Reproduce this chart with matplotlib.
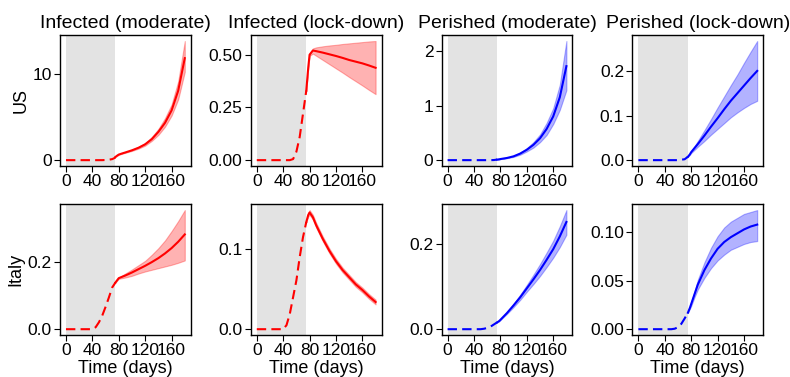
import matplotlib
matplotlib.use('Agg')
import matplotlib.pyplot as plt

plt.rcParams['font.family'] = ['Liberation Sans', 'DejaVu Sans']

# time grids (days)
t_pre = [0, 10, 20, 30, 40, 45, 50, 55, 60, 65, 70, 75]
t_post = [75, 78, 80, 85, 90, 100, 110, 120, 130, 140, 150, 160, 170, 180]
lock_start = 75

titles = ['Infected (moderate)', 'Infected (lock-down)', 'Perished (moderate)', 'Perished (lock-down)']
countries = ['US', 'Italy']
xticks = [0, 40, 80, 120, 160]
yticks = [[[0, 10], [0, 0.25, 0.5], [0, 1, 2], [0, 0.1, 0.2]],
          [[0, 0.2], [0, 0.1], [0, 0.2], [0, 0.05, 0.1]]]
yfmt = [['%d', '%.2f', '%d', '%.1f'],
        ['%.1f', '%.1f', '%.1f', '%.2f']]

# US
us_inf_mod_pre = [0, 0, 0, 0, 0, 0, 0, 0, 0.02, 0.05, 0.12, 0.3]
us_inf_mod = [0.38, 0.55, 0.65, 0.78, 0.9, 1.15, 1.45, 1.85, 2.45, 3.3, 4.35, 5.8, 8.1, 11.9]
us_inf_mod_lo = [0.38, 0.54, 0.63, 0.75, 0.86, 1.08, 1.35, 1.7, 2.25, 2.95, 3.9, 5.2, 7.1, 10.3]
us_inf_mod_hi = [0.38, 0.56, 0.67, 0.81, 0.94, 1.22, 1.56, 2.0, 2.7, 3.65, 4.9, 6.5, 9.2, 13.9]

us_inf_lock_pre = [0, 0, 0, 0, 0, 0, 0, 0.005, 0.04, 0.11, 0.22, 0.33]
us_inf_lock = [0.33, 0.44, 0.50, 0.52, 0.517, 0.51, 0.502, 0.494, 0.485, 0.475, 0.467, 0.459, 0.449, 0.438]
us_inf_lock_lo = [0.33, 0.44, 0.495, 0.505, 0.495, 0.475, 0.455, 0.435, 0.415, 0.394, 0.374, 0.354, 0.333, 0.313]
us_inf_lock_hi = [0.33, 0.44, 0.505, 0.53, 0.535, 0.54, 0.544, 0.547, 0.551, 0.554, 0.557, 0.56, 0.563, 0.565]

us_per_mod_pre = [0, 0, 0, 0, 0, 0, 0, 0, 0, 0, 0.002, 0.01]
us_per_mod = [0.01, 0.015, 0.02, 0.03, 0.04, 0.07, 0.12, 0.19, 0.28, 0.40, 0.57, 0.80, 1.15, 1.72]
us_per_mod_lo = [0.01, 0.015, 0.02, 0.028, 0.036, 0.06, 0.10, 0.16, 0.23, 0.33, 0.46, 0.66, 0.92, 1.28]
us_per_mod_hi = [0.01, 0.015, 0.02, 0.032, 0.044, 0.08, 0.14, 0.22, 0.33, 0.47, 0.68, 0.95, 1.38, 2.18]

us_per_lock_pre = [0, 0, 0, 0, 0, 0, 0, 0, 0, 0.001, 0.002, 0.0075]
us_per_lock = [0.0075, 0.013, 0.018, 0.027, 0.036, 0.055, 0.075, 0.094, 0.114, 0.133, 0.150, 0.167, 0.184, 0.200]
us_per_lock_lo = [0.0075, 0.012, 0.016, 0.023, 0.03, 0.043, 0.057, 0.070, 0.083, 0.096, 0.107, 0.117, 0.126, 0.133]
us_per_lock_hi = [0.0075, 0.014, 0.02, 0.031, 0.043, 0.067, 0.092, 0.118, 0.143, 0.168, 0.192, 0.218, 0.243, 0.267]

# Italy
it_inf_mod_pre = [0, 0, 0, 0, 0, 0.006, 0.021, 0.041, 0.067, 0.095, 0.125, 0.14]
it_inf_mod = [0.14, 0.148, 0.153, 0.157, 0.161, 0.17, 0.18, 0.19, 0.201, 0.213, 0.227, 0.243, 0.262, 0.284]
it_inf_mod_lo = [0.14, 0.147, 0.151, 0.153, 0.155, 0.16, 0.167, 0.173, 0.178, 0.183, 0.188, 0.193, 0.199, 0.206]
it_inf_mod_hi = [0.14, 0.149, 0.155, 0.161, 0.167, 0.179, 0.192, 0.205, 0.223, 0.243, 0.266, 0.294, 0.324, 0.357]

it_inf_lock_pre = [0, 0, 0, 0, 0, 0.005, 0.019, 0.04, 0.061, 0.09, 0.115, 0.134]
it_inf_lock = [0.134, 0.143, 0.146, 0.140, 0.130, 0.113, 0.098, 0.085, 0.074, 0.065, 0.056, 0.049, 0.041, 0.034]
it_inf_lock_lo = [0.134, 0.141, 0.143, 0.137, 0.127, 0.110, 0.095, 0.082, 0.071, 0.062, 0.053, 0.046, 0.038, 0.031]
it_inf_lock_hi = [0.134, 0.145, 0.149, 0.143, 0.133, 0.116, 0.101, 0.088, 0.077, 0.068, 0.059, 0.052, 0.044, 0.037]

it_per_mod_pre = [0, 0, 0, 0, 0, 0, 0, 0.001, 0.003, 0.006, 0.011, 0.016]
it_per_mod = [0.016, 0.019, 0.022, 0.03, 0.038, 0.056, 0.075, 0.096, 0.117, 0.139, 0.163, 0.188, 0.218, 0.252]
it_per_mod_lo = [0.016, 0.019, 0.022, 0.029, 0.036, 0.052, 0.069, 0.088, 0.106, 0.125, 0.146, 0.168, 0.193, 0.222]
it_per_mod_hi = [0.016, 0.019, 0.022, 0.031, 0.04, 0.06, 0.081, 0.104, 0.128, 0.153, 0.18, 0.208, 0.242, 0.28]

it_per_lock_pre = [0, 0, 0, 0, 0, 0, 0, 0.0005, 0.002, 0.0055, 0.011, 0.017]
it_per_lock = [0.017, 0.022, 0.026, 0.036, 0.046, 0.061, 0.073, 0.083, 0.090, 0.095, 0.099, 0.103, 0.106, 0.108]
it_per_lock_lo = [0.017, 0.021, 0.024, 0.033, 0.041, 0.053, 0.063, 0.071, 0.077, 0.082, 0.085, 0.088, 0.090, 0.091]
it_per_lock_hi = [0.017, 0.023, 0.028, 0.039, 0.051, 0.069, 0.084, 0.096, 0.105, 0.111, 0.115, 0.119, 0.121, 0.123]

panels = [
    [(us_inf_mod_pre, us_inf_mod, us_inf_mod_lo, us_inf_mod_hi, 'red'),
     (us_inf_lock_pre, us_inf_lock, us_inf_lock_lo, us_inf_lock_hi, 'red'),
     (us_per_mod_pre, us_per_mod, us_per_mod_lo, us_per_mod_hi, 'blue'),
     (us_per_lock_pre, us_per_lock, us_per_lock_lo, us_per_lock_hi, 'blue')],
    [(it_inf_mod_pre, it_inf_mod, it_inf_mod_lo, it_inf_mod_hi, 'red'),
     (it_inf_lock_pre, it_inf_lock, it_inf_lock_lo, it_inf_lock_hi, 'red'),
     (it_per_mod_pre, it_per_mod, it_per_mod_lo, it_per_mod_hi, 'blue'),
     (it_per_lock_pre, it_per_lock, it_per_lock_lo, it_per_lock_hi, 'blue')],
]

fig, axes = plt.subplots(2, 4, figsize=(7.9, 3.77), dpi=100)
fig.subplots_adjust(left=0.076, right=0.966, top=0.907, bottom=0.111, wspace=0.46, hspace=0.29)

for r in range(2):
    for c in range(4):
        ax = axes[r, c]
        pre, mid, lo, hi, col = panels[r][c]
        ax.axvspan(0, lock_start, color='#e3e3e3', lw=0, zorder=0)
        ax.fill_between(t_post, lo, hi, color=col, alpha=0.3, lw=0.8)
        ax.plot(t_pre, pre, color=col, ls='--', lw=1.5, dashes=(4.5, 2.5))
        ax.plot(t_post, mid, color=col, lw=1.5)
        ax.set_xticks(xticks)
        ax.set_yticks(yticks[r][c])
        ax.yaxis.set_major_formatter(plt.FormatStrFormatter(yfmt[r][c]))
        ax.tick_params(labelsize=12.5, direction='out', length=4, pad=2)
        for s in ax.spines.values():
            s.set_linewidth(1.0)
        if r == 0:
            ax.set_title(titles[c], fontsize=14, pad=5)
        if r == 1:
            ax.set_xlabel('Time (days)', fontsize=13, labelpad=1)
        if c == 0:
            ax.set_ylabel(countries[r], fontsize=13, labelpad=2)

fig.savefig('out.png', dpi=100)
